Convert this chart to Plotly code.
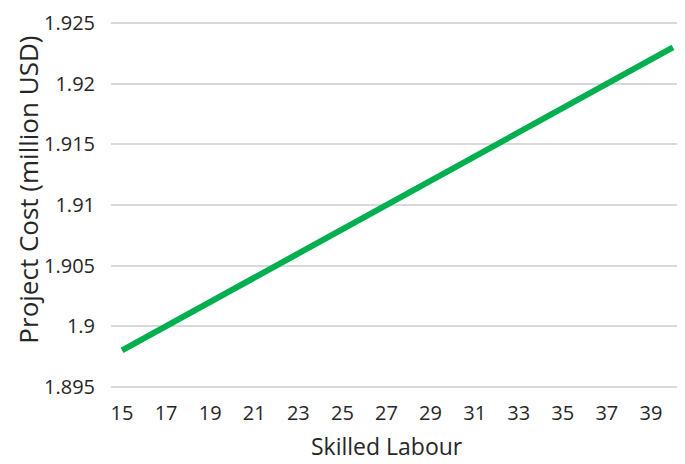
import plotly.graph_objects as go

skilled_labour = [15, 16, 17, 18, 19, 20, 21, 22, 23, 24, 25, 26, 27,
                  28, 29, 30, 31, 32, 33, 34, 35, 36, 37, 38, 39, 40]
project_cost = [1.898, 1.899, 1.900, 1.901, 1.902, 1.903, 1.904, 1.905, 1.906,
                1.907, 1.908, 1.909, 1.910, 1.911, 1.912, 1.913, 1.914, 1.915,
                1.916, 1.917, 1.918, 1.919, 1.920, 1.921, 1.922, 1.923]
x_ticks = list(range(15, 40, 2))
y_ticks = [1.895, 1.9, 1.905, 1.91, 1.915, 1.92, 1.925]
y_labels = ["1.895", "1.9", "1.905", "1.91", "1.915", "1.92", "1.925"]

fig = go.Figure()
fig.add_trace(go.Scatter(
    x=skilled_labour,
    y=project_cost,
    mode="lines",
    line=dict(color="#00B050", width=6),
    showlegend=False,
))

# page body adds 8px, so the figure is a bit smaller than the window
fig.update_layout(
    width=677,
    height=456,
    paper_bgcolor="white",
    plot_bgcolor="white",
    font=dict(family="Open Sans", size=20, color="#262626"),
    margin=dict(l=103, r=1, t=9, b=76),
    xaxis=dict(
        range=[14.5, 40.5],
        tickmode="array",
        tickvals=x_ticks,
        showgrid=False,
        zeroline=False,
        showline=False,
        ticks="",
        ticklabelstandoff=11,
    ),
    yaxis=dict(
        range=[1.8949, 1.9251],
        tickmode="array",
        tickvals=y_ticks,
        ticktext=y_labels,
        showgrid=True,
        gridcolor="#D9D9D9",
        gridwidth=1.5,
        zeroline=False,
        showline=False,
        ticks="",
        ticklabelstandoff=15,
        ticklabeloverflow="allow",
    ),
)

# axis titles as annotations so they sit where Excel put them
fig.add_annotation(
    text="Skilled Labour", xref="paper", yref="paper",
    x=0.482, y=-0.159, xanchor="center", yanchor="middle",
    showarrow=False, font=dict(size=23),
)
fig.add_annotation(
    text="Project Cost (million USD)", xref="paper", yref="paper",
    x=0, y=0.542, xanchor="left", yanchor="middle", xshift=-103,
    textangle=-90, showarrow=False, font=dict(size=26),
)

fig.write_html("out.html")
